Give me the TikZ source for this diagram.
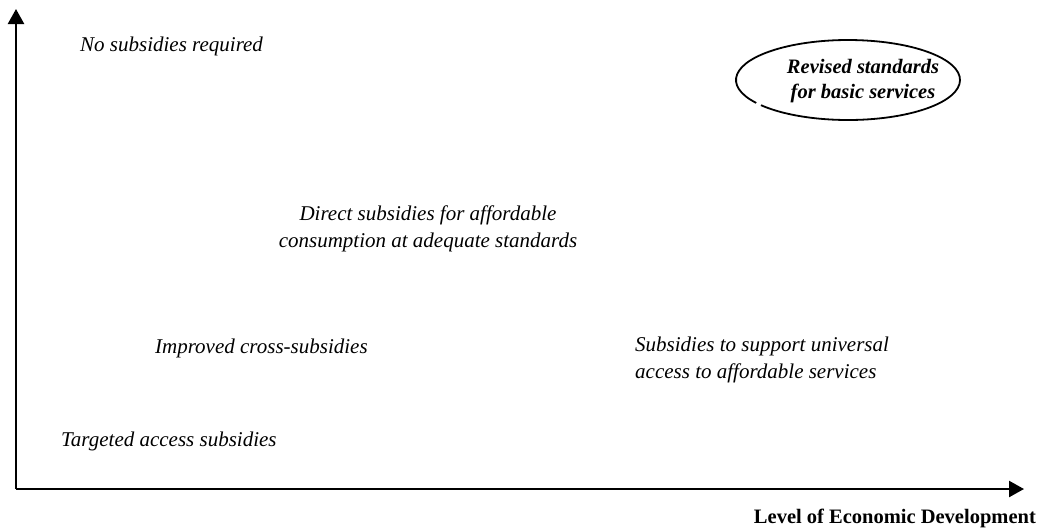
\documentclass[tikz,border=0pt]{standalone}
\usepackage{fontspec}
\setmainfont{Liberation Serif}
\usetikzlibrary{arrows.meta,shapes.geometric}
\begin{document}
\begin{tikzpicture}[x=1pt,y=1pt,
  axis/.style={line width=2.4pt,-{Triangle[width=16pt,length=15pt]}},
  lbl/.style={inner sep=0pt,font=\fontsize{21}{27}\selectfont\itshape},
  revtext/.style={inner sep=0pt,align=center,font=\fontsize{20.5}{25}\selectfont\bfseries\itshape}]
\useasboundingbox (0,0) rectangle (1043,-531);
% axes
\coordinate (origin) at (16,-489);
\coordinate (ytip) at (16,-9);
\coordinate (xtip) at (1024,-489);
\draw[axis] (origin) -- (ytip);
\draw[axis] (origin) -- (xtip);
\node[anchor=east,inner sep=0pt,font=\fontsize{20.5}{24}\selectfont\bfseries] (xlabel) at (1036,-518) {Level of Economic Development};
% policy regions
\node[lbl,anchor=west] (nosub) at (80,-46) {No subsidies required};
\node[lbl,align=center] (direct) at (428,-229) {Direct subsidies for affordable\\consumption at adequate standards};
\node[lbl,anchor=west] (cross) at (155,-348) {Improved cross-subsidies};
\node[lbl,align=left,anchor=west] (universal) at (635,-360) {Subsidies to support universal\\access to affordable services};
\node[lbl,anchor=west] (targeted) at (61,-441) {Targeted access subsidies};
% revised standards
\node[revtext] (revised) at (863,-81) {Revised standards\\for basic services};
\coordinate (ellc) at (848,-80);
\draw[line width=1.8pt] ([shift={(219:112 and 40)}]ellc) arc[start angle=219,end angle=575,x radius=112,y radius=40];
\end{tikzpicture}
\end{document}
